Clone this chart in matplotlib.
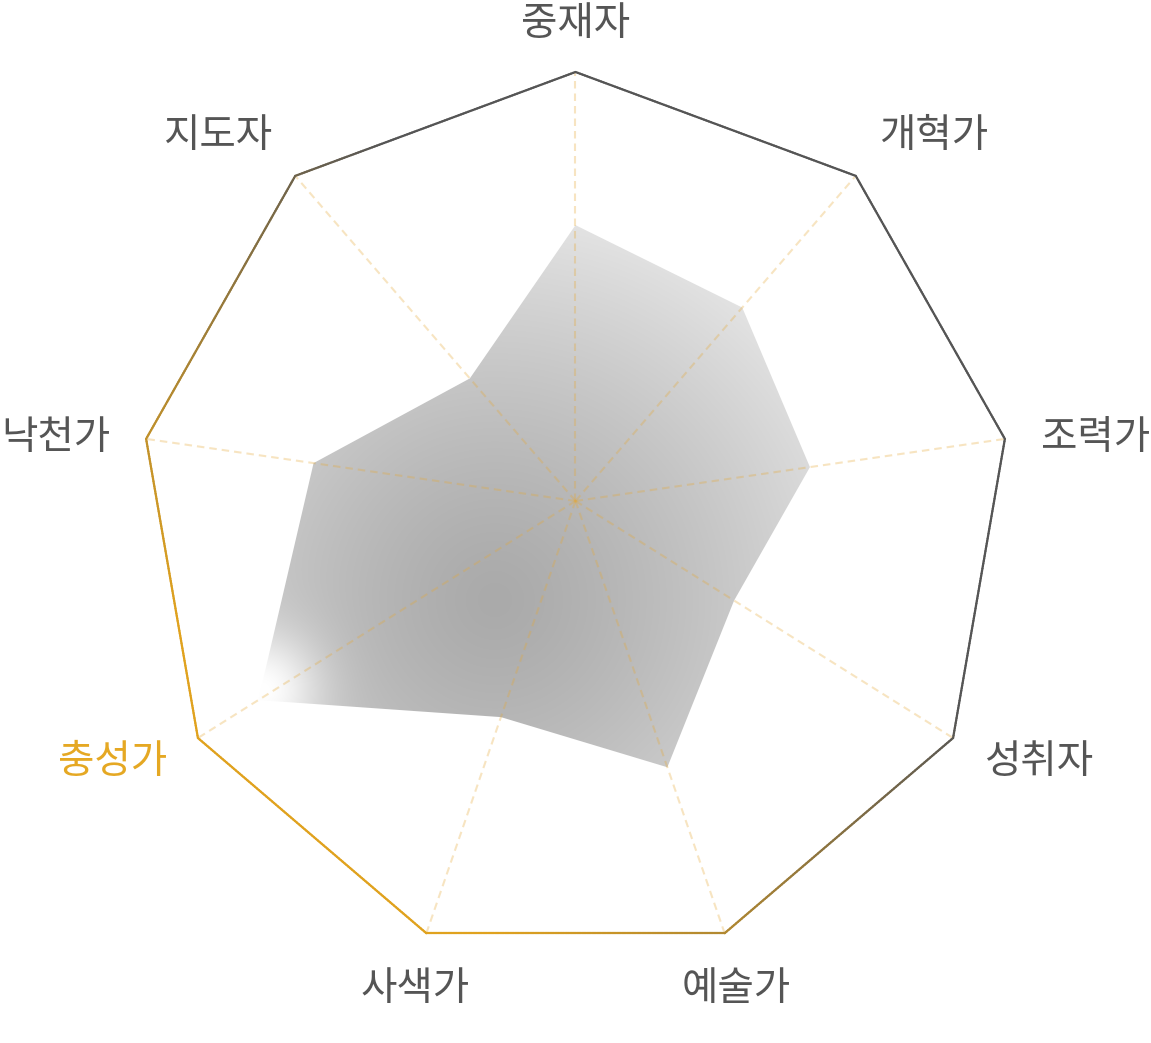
import numpy as np
import matplotlib
matplotlib.use('Agg')
import matplotlib.pyplot as plt
from matplotlib.collections import LineCollection
from matplotlib.patches import Polygon

# ---------------- data ----------------
categories = ['중재자', '개혁가', '조력가', '성취자', '예술가', '사색가', '충성가', '낙천가', '지도자']
values = [64.3, 59.5, 54.6, 42.0, 61.6, 50.0, 84.0, 61.0, 37.7]
max_value = 100
highlight = '충성가'

# ---------------- styling ----------------
W, H = 1151, 1043
LABEL_COLOR = '#555555'
GOLD = np.array([224, 162, 30]) / 255
GRAY = np.array([85, 85, 85]) / 255
FONT = ['Noto Sans CJK KR', 'DejaVu Sans']

fig = plt.figure(figsize=(W / 100, H / 100), dpi=100)
fig.patch.set_facecolor('white')
ax = fig.add_axes([0, 0, 1, 1])
ax.set_xlim(0, W)
ax.set_ylim(H, 0)
ax.axis('off')

# geometry of the radar
cx, cy = 575.5, 501.0          # origin of the spokes
ecx, ecy, rx, ry = 575.5, 516.0, 436.0, 444.0

n = len(categories)
theta = np.pi / 2 - 2 * np.pi * np.arange(n) / n
vx = ecx + rx * np.cos(theta)
vy = ecy - ry * np.sin(theta)

frac = np.array(values) / max_value
px = cx + frac * (vx - cx)
py = cy + frac * (vy - cy)

# ---------------- gradient fill of the data area ----------------
x0, x1 = int(px.min()) - 2, int(px.max()) + 3
y0, y1 = int(py.min()) - 2, int(py.max()) + 3
gx, gy = np.meshgrid(np.arange(x0, x1) + 0.5, np.arange(y0, y1) + 0.5)
gc = (495.0, 600.0)
d = np.hypot(gx - gc[0], gy - gc[1])
v = 170 + (228 - 170) * np.clip(d / 390.0, 0, 1) ** 1.3
hi = categories.index(highlight)
tipx, tipy = px[hi] + 4, py[hi] - 10
w = np.exp(-((np.hypot(gx - tipx, gy - tipy)) / 55.0) ** 2)
v = v + (255 - v) * w
img = np.dstack([v, v, v]) / 255.0
im = ax.imshow(img, extent=(x0, x1, y1, y0), origin='upper', interpolation='bilinear', zorder=1)
poly = Polygon(np.column_stack([px, py]), closed=True, facecolor='none', edgecolor='none')
ax.add_patch(poly)
im.set_clip_path(poly)

# ---------------- spokes ----------------
for i in range(n):
    ax.plot([cx, vx[i]], [cy, vy[i]], color=(0.9, 0.66, 0.2), alpha=0.3,
            lw=1.5, dashes=(3.6, 2.4), zorder=2)

# ---------------- outer polygon with linear gradient ----------------
p0 = np.array([vx.min(), vy.max()])
p1 = np.array([vx.max(), vy.min()])
dv = p1 - p0
segs, cols = [], []
for i in range(n):
    j = (i + 1) % n
    ts = np.linspace(0, 1, 121)
    xs = vx[i] + ts * (vx[j] - vx[i])
    ys = vy[i] + ts * (vy[j] - vy[i])
    for k in range(len(ts) - 1):
        segs.append([(xs[k], ys[k]), (xs[k + 1], ys[k + 1])])
        mx, my = (xs[k] + xs[k + 1]) / 2, (ys[k] + ys[k + 1]) / 2
        t = ((mx - p0[0]) * dv[0] + (my - p0[1]) * dv[1]) / (dv @ dv)
        f = np.clip((t - 0.2) / 0.4, 0, 1)
        cols.append(tuple(GOLD + (GRAY - GOLD) * f))
lc = LineCollection(segs, colors=cols, linewidths=1.6, capstyle='round', zorder=3)
ax.add_collection(lc)

# ---------------- labels ----------------
gap = 36
half_h = 17
for i, name in enumerate(categories):
    ux, uy = vx[i] - cx, vy[i] - cy
    L = np.hypot(ux, uy)
    ux, uy = ux / L, uy / L
    lx, ly = vx[i] + gap * ux, vy[i] + gap * uy
    ha = 'left' if ux > 0.5 else ('right' if ux < -0.5 else 'center')
    if -uy > 0.6:
        ly -= half_h
    elif -uy < -0.6:
        ly += half_h
    color = '#E5A823' if name == highlight else LABEL_COLOR
    ax.text(lx, ly, name, ha=ha, va='center_baseline', fontsize=28.5, color=color,
            family=FONT, zorder=4)

fig.savefig('out.png', dpi=100, facecolor='white')
